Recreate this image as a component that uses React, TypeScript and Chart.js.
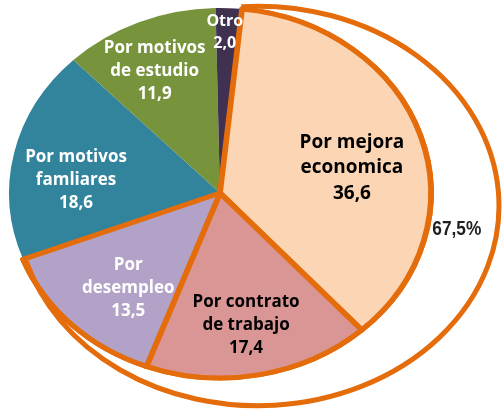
import React, { useEffect, useRef } from 'react';
import { Chart, registerables } from 'chart.js';
Chart.register(...registerables);

// ---- data ----
const categories: string[][] = [
  ['Por mejora', 'economica'],
  ['Por contrato', 'de trabajo'],
  ['Por', 'desempleo'],
  ['Por motivos', 'famliares'],
  ['Por motivos', 'de estudio'],
  ['Otro'],
];
const values: number[] = [36.6, 17.4, 13.5, 18.6, 11.9, 2.0];
const highlighted: boolean[] = [true, true, true, false, false, false];

// ---- styles ----
const sliceColors = ['#FCD5B5', '#D99694', '#B3A2C7', '#31849B', '#77933C', '#403151'];
const labelColors = ['#000000', '#000000', '#FFFFFF', '#FFFFFF', '#FFFFFF', '#FFFFFF'];
const labelRadius = [0.64, 0.724, 0.674, 0.686, 0.73, 0.87];
const labelAngleShift = [5.9, 1.1, -4.5, -6.7, -2.5, -0.9];
const labelFontSize = [19, 17, 17, 17, 17, 16];
const labelLineHeight = [25.5, 23, 23, 23, 23, 22];
const ORANGE = '#E46C0A';
const SX = 1.14; // horizontal stretch of the pie (ellipse look)

const fmt = (v: number) => v.toFixed(1).replace('.', ',');

const ellipsePlugin = {
  id: 'ellipsePie',
  beforeDatasetsDraw(chart: any) {
    const a = chart.getDatasetMeta(0).data[0];
    if (!a) return;
    const { x, y } = a.getProps(['x', 'y'], true);
    const ctx = chart.ctx;
    ctx.save();
    ctx.translate(x, y);
    ctx.scale(SX, 1);
    ctx.translate(-x, -y);
  },
  afterDatasetsDraw(chart: any) {
    const ctx = chart.ctx;
    const meta = chart.getDatasetMeta(0);
    // redraw highlighted slices so their borders are not covered by neighbours
    meta.data.forEach((arc: any, i: number) => {
      if (highlighted[i]) arc.draw(ctx, chart.chartArea);
    });
    ctx.restore();
    const a = meta.data[0];
    if (!a) return;
    const { x, y, outerRadius: R } = a.getProps(['x', 'y', 'outerRadius'], true);
    // outer highlight ellipse around highlighted slices
    ctx.save();
    ctx.strokeStyle = ORANGE;
    ctx.lineWidth = 5;
    ctx.beginPath();
    ctx.ellipse(x + 0.205 * R, y + 0.07 * R, 1.303 * R, 1.08 * R, 0, -1.64, 2.86, false);
    ctx.stroke();
    ctx.restore();
  },
  afterDraw(chart: any) {
    const ctx = chart.ctx;
    const meta = chart.getDatasetMeta(0);
    meta.data.forEach((arc: any, i: number) => {
      const { x, y, startAngle, endAngle, outerRadius } = arc.getProps(
        ['x', 'y', 'startAngle', 'endAngle', 'outerRadius'],
        true
      );
      const ang = (startAngle + endAngle) / 2 + (labelAngleShift[i] * Math.PI) / 180;
      const r = labelRadius[i] * outerRadius;
      const px = x + SX * r * Math.cos(ang);
      const py = y + r * Math.sin(ang);
      const lines = [...categories[i], fmt(values[i])];
      const lh = labelLineHeight[i];
      ctx.save();
      ctx.font = `bold ${labelFontSize[i]}px "Open Sans", sans-serif`;
      ctx.fillStyle = labelColors[i];
      ctx.textAlign = 'center';
      ctx.textBaseline = 'middle';
      lines.forEach((t, k) => {
        ctx.fillText(t, px, py + (k - (lines.length - 1) / 2) * lh);
      });
      ctx.restore();
    });
    // highlighted total label
    const a0 = meta.data[0];
    if (a0) {
      const { x, y, outerRadius: R } = a0.getProps(['x', 'y', 'outerRadius'], true);
      const total = values.reduce((s, v, i) => (highlighted[i] ? s + v : s), 0);
      ctx.save();
      ctx.font = 'bold 21px "Liberation Sans", Arial, sans-serif';
      ctx.fillStyle = '#1F1F1F';
      ctx.textAlign = 'center';
      ctx.textBaseline = 'middle';
      ctx.fillText(fmt(total) + '%', x + 1.28 * R, y + 0.195 * R, 49);
      ctx.restore();
    }
  },
};

export default function App() {
  const ref = useRef<HTMLCanvasElement | null>(null);
  useEffect(() => {
    document.body.style.margin = '0';
    if (!ref.current) return;
    const chart = new Chart(ref.current, {
      type: 'pie',
      data: {
        labels: categories.map((c) => c.join(' ')),
        datasets: [
          {
            data: values,
            backgroundColor: sliceColors,
            borderColor: values.map((_, i) => (highlighted[i] ? ORANGE : 'rgba(0,0,0,0)')),
            borderWidth: values.map((_, i) => (highlighted[i] ? 5 : 0)),
            borderJoinStyle: 'round',
            clip: false,
          } as any,
        ],
      },
      options: {
        animation: false,
        responsive: false,
        rotation: 6,
        events: [],
        layout: { padding: { top: 5.5, bottom: 29.5, left: 32.5, right: 94.5 } },
        plugins: {
          legend: { display: false },
          tooltip: { enabled: false },
        },
      },
      plugins: [ellipsePlugin],
    });
    return () => chart.destroy();
  }, []);
  return (
    <div style={{ position: 'absolute', left: 0, top: 0, width: 502, height: 410, background: '#fff' }}>
      <canvas ref={ref} width={502} height={410} style={{ width: 502, height: 410, display: 'block' }} />
    </div>
  );
}
